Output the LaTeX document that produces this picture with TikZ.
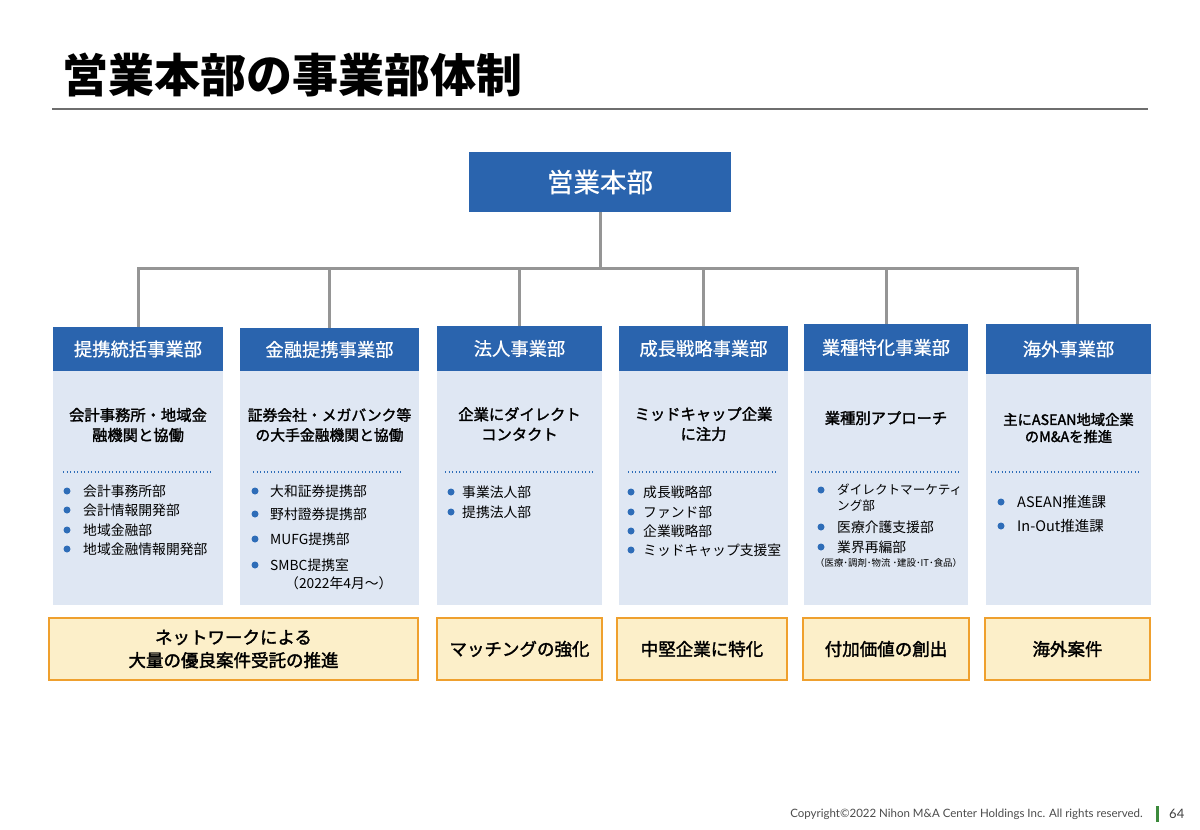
\documentclass[tikz,border=0pt]{standalone}
\usepackage{fontspec}
\setmainfont{Noto Sans CJK JP}
\newfontfamily\semifont{Noto Sans CJK JP}[FakeBold=0.6]
\newfontfamily\strongfont{Noto Sans CJK JP}[FakeBold=1.8]
\newfontfamily\footfont{Lato}
\usetikzlibrary{positioning}

\definecolor{hqblue}{HTML}{2A64AE}
\definecolor{paleblue}{HTML}{DFE7F3}
\definecolor{dotblue}{HTML}{2E6DB8}
\definecolor{linkgray}{HTML}{959595}
\definecolor{goalorange}{HTML}{EFA02E}
\definecolor{goalfill}{HTML}{FCEFC9}
\definecolor{rulegray}{HTML}{6E6E6E}
\definecolor{footgreen}{HTML}{3C8A3C}

\tikzset{
    hqbox/.style={fill=hqblue, text=white, minimum width=262pt, minimum height=60pt,
        inner sep=0pt, font=\semifont\fontsize{26.5}{30}\selectfont},
    headbox/.style={fill=hqblue, text=white, inner sep=0pt, font=\semifont\fontsize{18.3}{22}\selectfont},
    bodybox/.style={fill=paleblue, anchor=north, inner sep=0pt},
    tagline/.style={align=center, inner sep=0pt, font=\strongfont\fontsize{15.3}{20}\selectfont},
    item/.style={anchor=west, align=left, inner sep=0pt, font=\fontsize{13.8}{16}\selectfont},
    sepline/.style={dotblue, line width=1.3pt, dash pattern=on 1.3pt off 2.2pt},
    goalbox/.style={draw=goalorange, line width=2pt, fill=goalfill, minimum height=62pt,
        inner sep=0pt, align=center, font=\strongfont\fontsize{17.5}{23}\selectfont},
    link/.style={draw=linkgray, line width=3pt},
}

\begin{document}
\begin{tikzpicture}[x=1pt, y=-1pt]
    \useasboundingbox[fill=white] (0,0) rectangle (1200,830);

    % title
    \node[anchor=west, inner sep=0pt, font=\bfseries\fontsize{46}{50}\selectfont] (title) at (62,75) {営業本部の事業部体制};
    \draw[rulegray, line width=1.5pt] (52,109) -- (1148,109);

    % top of the tree
    \node[hqbox] (hq) at (600,182) {営業本部};

    % division headers and their panels
    \node[headbox, minimum width=170pt, minimum height=44pt] (h1) at (138,349) {提携統括事業部};
    \node[headbox, minimum width=179pt, minimum height=43pt] (h2) at (329.5,349.5) {金融提携事業部};
    \node[headbox, minimum width=165pt, minimum height=45pt] (h3) at (519.5,348.5) {法人事業部};
    \node[headbox, minimum width=169pt, minimum height=45pt] (h4) at (703.5,348.5) {成長戦略事業部};
    \node[headbox, minimum width=164pt, minimum height=47pt] (h5) at (886,347.5) {業種特化事業部};
    \node[headbox, minimum width=165pt, minimum height=50pt] (h6) at (1068.5,349) {海外事業部};

    \node[bodybox, minimum width=170pt, minimum height=234pt] (b1) at (h1.south) {};
    \node[bodybox, minimum width=179pt, minimum height=234pt] (b2) at (h2.south) {};
    \node[bodybox, minimum width=165pt, minimum height=234pt] (b3) at (h3.south) {};
    \node[bodybox, minimum width=169pt, minimum height=234pt] (b4) at (h4.south) {};
    \node[bodybox, minimum width=164pt, minimum height=234pt] (b5) at (h5.south) {};
    \node[bodybox, minimum width=165pt, minimum height=231pt] (b6) at (h6.south) {};

    % tree lines
    \coordinate (bus) at (600,268);
    \coordinate (d6) at ([xshift=9pt]h6.north);
    \draw[link] (hq.south) -- (bus);
    \draw[link] (h1.north) |- (bus) -| (d6);
    \foreach \h in {h2,h3,h4,h5}
        \draw[link] (\h.north) -- (\h.north |- bus);

    % what each division does
    \node[tagline] (t1) at (138,425) {会計事務所・地域金\\融機関と協働};
    \node[tagline, font=\strongfont\fontsize{14.8}{20}\selectfont] (t2) at (329.5,425) {証券会社・メガバンク等\\の大手金融機関と協働};
    \node[tagline] (t3) at (519.5,424) {企業にダイレクト\\コンタクト};
    \node[tagline] (t4) at (703.5,424) {ミッドキャップ企業\\に注力};
    \node[tagline] (t5) at (886,418) {業種別アプローチ};
    \node[tagline, font=\strongfont\fontsize{14.3}{17}\selectfont] (t6) at (1068.5,428) {主にASEAN地域企業\\のM\&Aを推進};

    \draw[sepline] (63,472) -- (213,472);
    \draw[sepline] (253,472) -- (403,472);
    \draw[sepline] (445,472) -- (595,472);
    \draw[sepline] (628,472) -- (778,472);
    \draw[sepline] (811,472) -- (960,472);
    \draw[sepline] (991,472) -- (1141,472);

    % sections
    \foreach \y/\t in {491/会計事務所部, 510/会計情報開発部, 530/地域金融部, 549/地域金融情報開発部} {
        \fill[dotblue] (67,\y) circle (3.5);
        \node[item] (i1-\y) at (83,\y) {\t};
    }
    \foreach \y/\t in {491/大和証券提携部, 514/野村證券提携部, 539/MUFG提携部, 565/SMBC提携室} {
        \fill[dotblue] (255,\y) circle (3.5);
        \node[item] (i2-\y) at (270,\y) {\t};
    }
    \node[item] (i2-note) at (285,583) {（2022年4月～）};
    \foreach \y/\t in {492/事業法人部, 512/提携法人部} {
        \fill[dotblue] (451,\y) circle (3.5);
        \node[item] (i3-\y) at (462,\y) {\t};
    }
    \foreach \y/\t in {492/成長戦略部, 512/ファンド部, 531/企業戦略部, 550/ミッドキャップ支援室} {
        \fill[dotblue] (631,\y) circle (3.5);
        \node[item] (i4-\y) at (643,\y) {\t};
    }
    \fill[dotblue] (821,490) circle (3.5);
    \node[item, font=\fontsize{12.6}{16}\selectfont] (i5-490) at (837,498) {ダイレクトマーケティ\\ング部};
    \foreach \y/\t in {527/医療介護支援部, 547/業界再編部} {
        \fill[dotblue] (821,\y) circle (3.5);
        \node[item] (i5-\y) at (837,\y) {\t};
    }
    \node[item, font=\fontsize{9.4}{11}\selectfont] (i5-note) at (815,563) {（医療･調剤･物流 ･建設･IT･食品）};
    \foreach \y/\t in {502/ASEAN推進課, 526/In-Out推進課} {
        \fill[dotblue] (1001,\y) circle (3.5);
        \node[item, font=\fontsize{14.5}{16}\selectfont] (i6-\y) at (1017,\y) {\t};
    }

    % goals
    \node[goalbox, minimum width=369pt] (g1) at (233.5,649) {ネットワークによる\\大量の優良案件受託の推進};
    \node[goalbox, minimum width=165pt] (g2) at (519.5,649) {マッチングの強化};
    \node[goalbox, minimum width=170pt] (g3) at (702,649) {中堅企業に特化};
    \node[goalbox, minimum width=166pt] (g4) at (886,649) {付加価値の創出};
    \node[goalbox, minimum width=165pt] (g5) at (1067.5,649) {海外案件};

    % footer
    \node[anchor=east, inner sep=0pt, text=black!70, font=\footfont\fontsize{11.5}{13}\selectfont] (copy) at (1143,814)
        {Copyright©2022 Nihon M\&A Center Holdings Inc. All rights reserved.};
    \fill[footgreen] (1156,806) rectangle (1159,822);
    \node[anchor=west, inner sep=0pt, text=black!75, font=\footfont\fontsize{13}{15}\selectfont] (page) at (1169,814) {64};
\end{tikzpicture}
\end{document}
